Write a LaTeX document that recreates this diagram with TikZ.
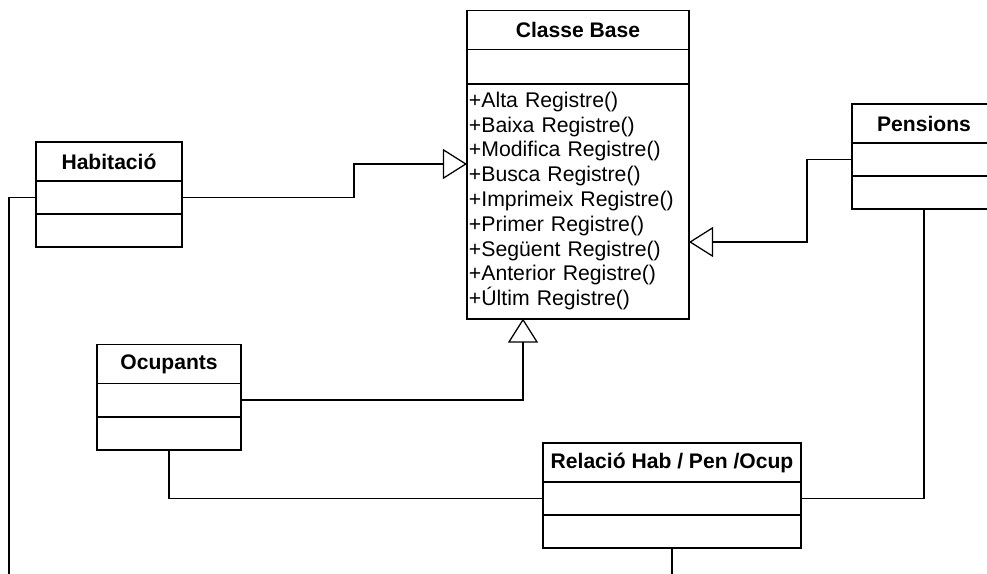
\documentclass[tikz,border=0pt]{standalone}
\usepackage{fontspec}
\setmainfont{Liberation Sans}
\usetikzlibrary{arrows.meta, positioning}

\begin{document}
\begin{tikzpicture}[
    x=0.025cm, y=-0.025cm,
    classname/.style={draw, line width=1.4pt, outer sep=0pt, minimum height=0.975cm, font=\fontsize{15}{17.6}\selectfont\bfseries},
    compart/.style={draw, line width=1.4pt, outer sep=0pt, minimum height=0.825cm},
    methods/.style={draw, line width=1.4pt, outer sep=0pt, minimum height=5.875cm, text width=5.45cm, inner xsep=1pt, align=left, font=\fontsize{15.1}{17.65}\selectfont},
    link/.style={line width=0.9pt},
    inherit/.style={link, -{Triangle[open, length=0.6cm, width=0.75cm]}},
]
    \clip (0,0) rectangle (987,573);

    % Classe Base
    \node[classname, minimum width=5.55cm] (base-title) at (578,30) {Classe Base};
    \node[compart, minimum width=5.55cm, minimum height=0.85cm, below=0pt of base-title] (base-attr) {};
    \node[methods, minimum width=5.55cm, below=0pt of base-attr] (base-ops) {+Alta Registre()\\+Baixa Registre()\\+Modifica Registre()\\+Busca Registre()\\+Imprimeix Registre()\\+Primer Registre()\\+Següent Registre()\\+Anterior Registre()\\+Últim Registre()};

    % Habitacio
    \node[classname, minimum width=3.65cm] (hab-title) at (109,161.5) {Habitació};
    \node[compart, minimum width=3.65cm, below=0pt of hab-title] (hab-attr) {};
    \node[compart, minimum width=3.65cm, below=0pt of hab-attr] (hab-ops) {};

    % Pensions
    \node[classname, minimum width=3.6cm] (pen-title) at (924,123.5) {Pensions};
    \node[compart, minimum width=3.6cm, below=0pt of pen-title] (pen-attr) {};
    \node[compart, minimum width=3.6cm, below=0pt of pen-attr] (pen-ops) {};

    % Ocupants
    \node[classname, minimum width=3.6cm] (ocu-title) at (169,364) {Ocupants};
    \node[compart, minimum width=3.6cm, below=0pt of ocu-title] (ocu-attr) {};
    \node[compart, minimum width=3.6cm, below=0pt of ocu-attr] (ocu-ops) {};

    % Relacio
    \node[classname, minimum width=6.45cm] (rel-title) at (672,462.5) {Relació Hab / Pen /Ocup};
    \node[compart, minimum width=6.45cm, below=0pt of rel-title] (rel-attr) {};
    \node[compart, minimum width=6.45cm, below=0pt of rel-attr] (rel-ops) {};

    % inheritance
    \draw[inherit] (hab-attr.east) -| (354,164) -- (base-ops.west |- 354,164);
    \draw[inherit] (pen-attr.west) -| (807,242) -- (base-ops.east |- 807,242);
    \draw[inherit] (ocu-attr.east) -| (base-ops.south -| 523,0);

    % associations
    \coordinate (hab-end) at (9,575);
    \coordinate (rel-end) at (672,575);
    \draw[link] (ocu-ops.south) |- (rel-attr.west);
    \draw[link] (pen-ops.south) |- (rel-attr.east);
    \draw[link] (hab-attr.west) -| (hab-end);
    \draw[link] (rel-ops.south) -- (rel-end);
\end{tikzpicture}
\end{document}
